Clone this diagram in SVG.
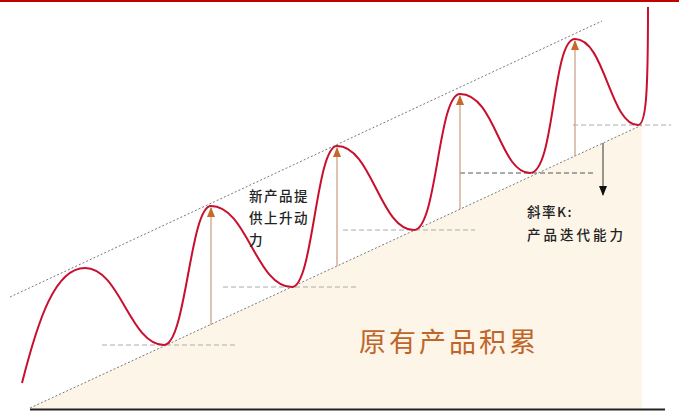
<svg xmlns="http://www.w3.org/2000/svg" width="679" height="416" viewBox="0 0 679 416">
<defs>
<marker id="up" viewBox="0 0 10 8" refX="9" refY="4" markerWidth="10" markerHeight="8" markerUnits="userSpaceOnUse" orient="auto"><path d="M0,0 L10,4 L0,8 Z" fill="#c8682a"/></marker>
<marker id="down" viewBox="0 0 10 8" refX="9" refY="4" markerWidth="10" markerHeight="8" markerUnits="userSpaceOnUse" orient="auto"><path d="M0,0 L10,4 L0,8 Z" fill="#111"/></marker>
<style>
.dot{stroke:#7a7a7a;stroke-width:1;stroke-dasharray:2 2;fill:none}
.hd{stroke:#aaa;stroke-width:1;stroke-dasharray:5 3;fill:none}
.hdd{stroke:#555;stroke-width:1;stroke-dasharray:5 3;fill:none}
.va{stroke:#c99a80;stroke-width:1.2;fill:none}
.t{font-family:"Noto Sans CJK SC","Noto Sans",sans-serif;font-size:13.5px;font-weight:500;fill:#222;letter-spacing:1.5px}
.big{font-family:"Noto Sans CJK SC",sans-serif;font-size:27px;fill:#c0652a;letter-spacing:3px}
</style>
</defs>
<rect x="0" y="0" width="679" height="416" fill="#fff"/>
<rect x="0" y="0" width="679" height="2" fill="#c00000"/>
<g id="base">
<polygon points="30,408 642,125 642,409 30,409" fill="#fcf5e8"/>
<line x1="30" y1="409.5" x2="665" y2="409.5" stroke="#222" stroke-width="2"/>
</g>
<g id="connectors">
<line class="dot" x1="30" y1="408" x2="642" y2="125"/>
<line class="dot" x1="10" y1="297" x2="602" y2="21"/>
<line class="hd" x1="102" y1="345" x2="235" y2="345"/>
<line class="hd" x1="223" y1="287" x2="356" y2="287"/>
<line class="hd" x1="343" y1="230" x2="475" y2="230"/>
<line class="hdd" x1="460" y1="173" x2="593" y2="173"/>
<line class="hd" x1="573" y1="125" x2="671" y2="125"/>
<line class="va" x1="211" y1="325" x2="211" y2="208" marker-end="url(#up)"/>
<line class="va" x1="337" y1="266" x2="337" y2="148" marker-end="url(#up)"/>
<line class="va" x1="460" y1="209" x2="460" y2="96" marker-end="url(#up)"/>
<line class="va" x1="575" y1="156" x2="575" y2="41" marker-end="url(#up)"/>
<line x1="603" y1="143" x2="603" y2="195" stroke="#333" stroke-width="1" marker-end="url(#down)"/>
</g>
<g id="curve">
<path d="M22,383 C38,320 55,268 85,268 C120,268 130,345 164,345 C186,345 190,206 211,206 C247,206 256,287 292,287 C313,287 316,146 337,146 C372,146 380,230 414,230 C437,230 438,94 460,94 C495,94 500,173 530,173 C555,173 552,39 575,39 C605,39 610,125 638,125 C646,125 648,95 648,7" fill="none" stroke="#c8102e" stroke-width="2"/>
</g>
<g id="label-new">
<text class="t" x="249" y="201">新产品提</text>
<text class="t" x="249" y="223">供上升动</text>
<text class="t" x="249" y="245">力</text>
</g>
<g id="label-slope">
<text class="t" x="527" y="217">斜率K:</text>
<text class="t" x="527" y="240" style="letter-spacing:3px">产品迭代能力</text>
</g>
<g id="label-base">
<text class="big" x="359" y="352">原有产品积累</text>
</g>
</svg>
